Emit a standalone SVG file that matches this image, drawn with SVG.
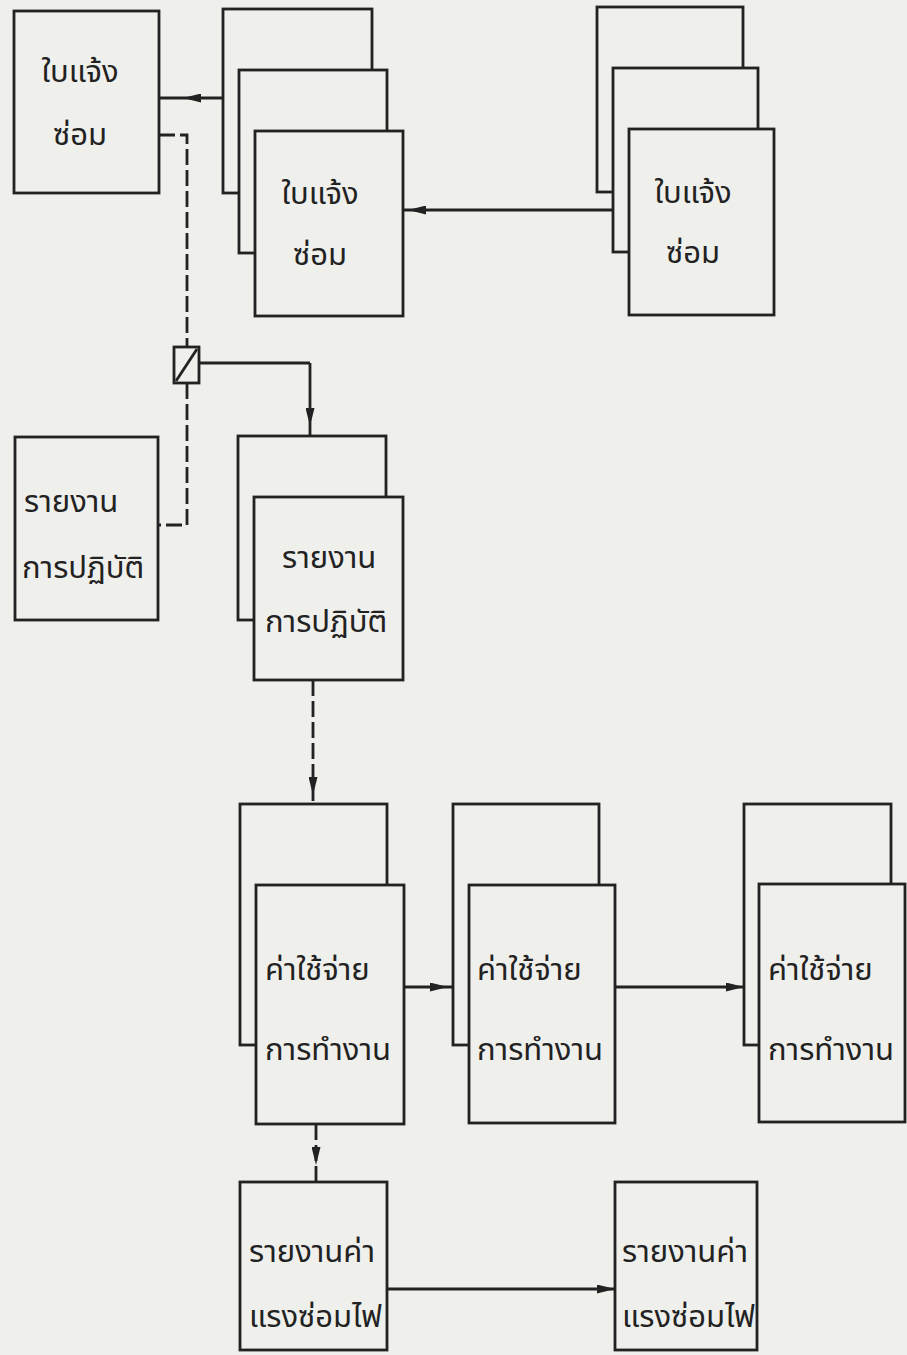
<svg xmlns="http://www.w3.org/2000/svg" width="907" height="1355" viewBox="0 0 907 1355">
<style>
.bg{fill:#efefec}
.sh{fill:#efefec;stroke:#222;stroke-width:2.8}
.ln{fill:none;stroke:#222;stroke-width:2.8}
.dsh{fill:none;stroke:#222;stroke-width:2.8;stroke-dasharray:16 5}
.t{font-family:"Noto Sans Thai","Noto Sans","DejaVu Sans",sans-serif;font-size:31px;fill:#222}
</style>
<defs>
<marker id="ah" viewBox="0 0 16 8" refX="16" refY="4" markerWidth="18" markerHeight="9" markerUnits="userSpaceOnUse" orient="auto">
<path d="M0,0 L16,4 L0,8 z" fill="#222"/>
</marker>
</defs>
<rect class="bg" x="0" y="0" width="907" height="1355"/>

<g id="connectors">
<path class="ln" d="M223,98 L183,98 L159,98" marker-mid="url(#ah)"/>
<path class="ln" d="M613,210 L408,210 L403,210" marker-mid="url(#ah)"/>
<path class="dsh" d="M159,135 L187,135 L187,347"/>
<path class="dsh" d="M187,383 L187,525 L158,525"/>
<path class="ln" d="M199,363 L310,363"/>
<path class="ln" d="M310,363 L310,426 L310,436" marker-mid="url(#ah)"/>
<path class="dsh" d="M313,680 L313,795 L313,803" marker-mid="url(#ah)"/>
<path class="ln" d="M404,987 L448,987 L453,987" marker-mid="url(#ah)"/>
<path class="ln" d="M615,987 L744,987" marker-end="url(#ah)"/>
<path class="dsh" d="M316,1124 L316,1165 L316,1182" marker-mid="url(#ah)"/>
<path class="ln" d="M387,1289 L615,1289" marker-end="url(#ah)"/>
</g>

<g id="switch">
<rect class="sh" x="174" y="347" width="25" height="36"/>
<path class="ln" d="M176,381 L197,349"/>
</g>

<g id="node-a">
<rect class="sh" x="14" y="11" width="145" height="182"/>
<text class="t" x="80" y="82" text-anchor="middle">ใบแจ้ง</text>
<text class="t" x="80" y="145" text-anchor="middle">ซ่อม</text>
</g>

<g id="node-b">
<rect class="sh" x="223" y="9" width="149" height="184"/>
<rect class="sh" x="239" y="70" width="148" height="183"/>
<rect class="sh" x="255" y="131" width="148" height="185"/>
<text class="t" x="320" y="204" text-anchor="middle">ใบแจ้ง</text>
<text class="t" x="320" y="265" text-anchor="middle">ซ่อม</text>
</g>

<g id="node-c">
<rect class="sh" x="597" y="7" width="146" height="185"/>
<rect class="sh" x="613" y="68" width="145" height="184"/>
<rect class="sh" x="629" y="129" width="145" height="186"/>
<text class="t" x="693" y="203" text-anchor="middle">ใบแจ้ง</text>
<text class="t" x="693" y="263" text-anchor="middle">ซ่อม</text>
</g>

<g id="node-d">
<rect class="sh" x="15" y="437" width="143" height="183"/>
<text class="t" x="24" y="512">รายงาน</text>
<text class="t" x="22" y="578">การปฏิบัติ</text>
</g>

<g id="node-e">
<rect class="sh" x="238" y="436" width="148" height="184"/>
<rect class="sh" x="254" y="497" width="149" height="183"/>
<text class="t" x="282" y="568">รายงาน</text>
<text class="t" x="265" y="632">การปฏิบัติ</text>
</g>

<g id="node-f">
<rect class="sh" x="240" y="804" width="147" height="241"/>
<rect class="sh" x="256" y="885" width="148" height="239"/>
<text class="t" x="265" y="980">ค่าใช้จ่าย</text>
<text class="t" x="265" y="1060">การทำงาน</text>
</g>

<g id="node-g">
<rect class="sh" x="453" y="804" width="146" height="241"/>
<rect class="sh" x="469" y="885" width="146" height="238"/>
<text class="t" x="477" y="980">ค่าใช้จ่าย</text>
<text class="t" x="477" y="1060">การทำงาน</text>
</g>

<g id="node-h">
<rect class="sh" x="744" y="804" width="147" height="241"/>
<rect class="sh" x="759" y="884" width="146" height="238"/>
<text class="t" x="768" y="980">ค่าใช้จ่าย</text>
<text class="t" x="768" y="1060">การทำงาน</text>
</g>

<g id="node-i">
<rect class="sh" x="240" y="1182" width="147" height="168"/>
<text class="t" x="249" y="1262">รายงานค่า</text>
<text class="t" x="249" y="1327">แรงซ่อมไฟ</text>
</g>

<g id="node-j">
<rect class="sh" x="615" y="1182" width="142" height="168"/>
<text class="t" x="622" y="1262">รายงานค่า</text>
<text class="t" x="622" y="1327">แรงซ่อมไฟ</text>
</g>
</svg>
